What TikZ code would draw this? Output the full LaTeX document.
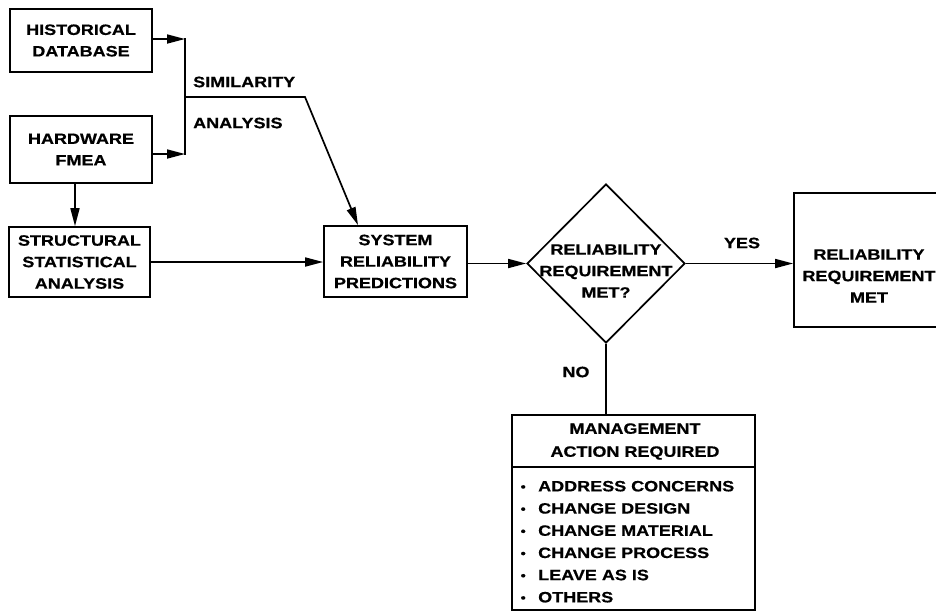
\documentclass[tikz,border=0pt]{standalone}
\usepackage{fontspec}
\setmainfont{Liberation Sans}[FakeStretch=1.2,FakeBold=0.6]
\usetikzlibrary{arrows.meta,shapes.geometric}
\tikzset{
  lbl/.style={font=\fontsize{15}{21.5}\selectfont\bfseries, align=center, inner sep=0pt},
  box/.style={draw, line width=1.7pt, inner sep=0pt, align=center,
              font=\fontsize{15}{21.5}\selectfont\bfseries},
  conn/.style={line width=1.7pt},
  arr/.style={line width=1.7pt, -{Triangle[length=18pt,width=9pt]}},
}
\newcommand{\blt}{\makebox[12pt]{\fontsize{12}{12}\selectfont\raisebox{0.5pt}{•}}\hspace{9pt}}
\begin{document}
\begin{tikzpicture}[x=1pt,y=-1pt]
\clip (0,0) rectangle (936,614);
\fill[white] (0,0) rectangle (936,614);

% boxes
\node[box, minimum width=142pt, minimum height=63pt] (hist) at (81,40.5) {HISTORICAL\\DATABASE};
\node[box, minimum width=142pt, minimum height=67pt] (hw) at (81,149.5) {HARDWARE\\FMEA};
\node[box, minimum width=141pt, minimum height=70pt] (struct) at (79.5,262) {STRUCTURAL\\STATISTICAL\\ANALYSIS};
\node[box, minimum width=143pt, minimum height=71pt] (sys) at (395.5,261.5) {SYSTEM\\RELIABILITY\\PREDICTIONS};
\node[draw, diamond, line width=1.7pt, minimum width=158pt, minimum height=159pt, inner sep=0pt] (dia) at (606,263.5) {};
\node[lbl] (diatext) at (606,271) {RELIABILITY\\REQUIREMENT\\MET?};
\node[box, minimum width=162pt, minimum height=134pt] (rrm) at (875,260) {};
\node[lbl] (rrmtext) at (869,276) {RELIABILITY\\REQUIREMENT\\MET};
\node[box, minimum width=243pt, minimum height=195pt] (mar) at (633.5,512.5) {};
\draw[conn] ([yshift=-53pt]mar.north west) coordinate (dl) -- ([yshift=-53pt]mar.north east) coordinate (dr);
\node[lbl, font=\fontsize{15}{23}\selectfont\bfseries] (martitle) at (635,441.5) {MANAGEMENT\\ACTION REQUIRED};
\node[lbl, align=left, anchor=north west, font=\fontsize{15}{22.2}\selectfont\bfseries] (list) at (517,480.7)
  {\blt ADDRESS CONCERNS\\\blt CHANGE DESIGN\\\blt CHANGE MATERIAL\\\blt CHANGE PROCESS\\\blt LEAVE AS IS\\\blt OTHERS};

% labels
\node[lbl, anchor=west] (sim) at (193,82) {SIMILARITY};
\node[lbl, anchor=west] (ana) at (193,123) {ANALYSIS};
\node[lbl] (yes) at (742,243) {YES};
\node[lbl] (no) at (576,372) {NO};

% connectors
\coordinate (jt) at (185,39);
\coordinate (jb) at (185,154);
\coordinate (jm) at (185,97);
\coordinate (bend) at (305,97);
\draw[arr] (jt -| hist.east) -- (jt);
\draw[arr] (jb -| hw.east) -- (jb);
\draw[conn, line cap=rect] (jt) -- (jb);
\draw[arr] (jm) -- (bend) -- ([xshift=-37.5pt]sys.north);
\draw[arr] ([xshift=-6pt]hw.south) -- ([xshift=-6pt]hw.south |- struct.north);
\draw[arr] (struct.east) -- (struct.east -| sys.west);
\draw[arr] (dia.west -| sys.east) -- (dia.west);
\draw[arr] (dia.east) -- (dia.east -| rrm.west);
\draw[conn] (dia.south) -- (dia.south |- mar.north);
\end{tikzpicture}
\end{document}
